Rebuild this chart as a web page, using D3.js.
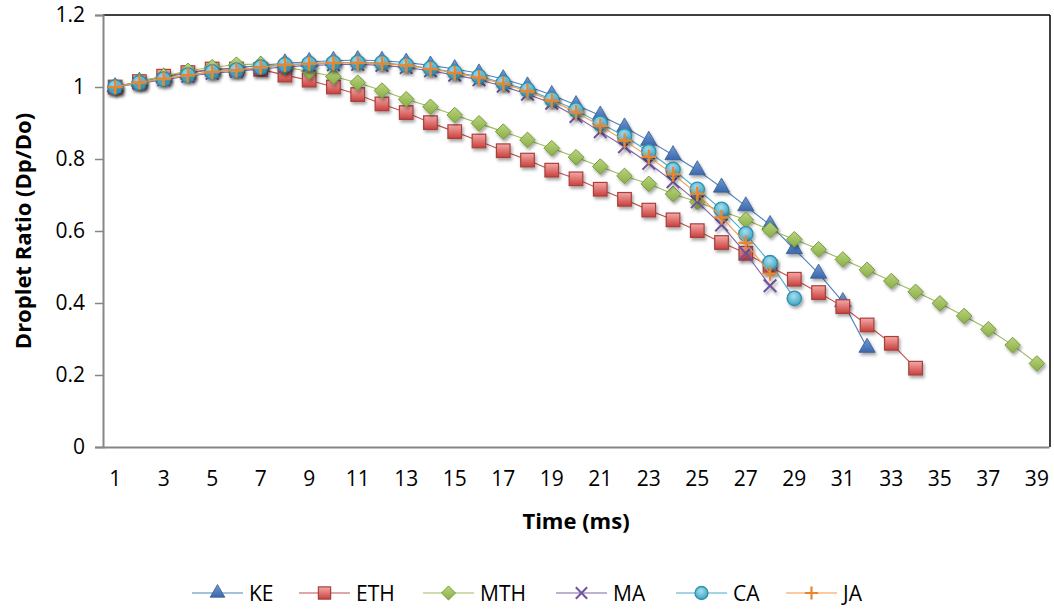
<!DOCTYPE html>
<body style="margin:0">
<svg width="1054" height="610" font-family="'Open Sans', sans-serif"></svg>
</body>
<script src="https://d3js.org/d3.v7.min.js"></script>
<script>

var svg = d3.select("svg");

// categories (ms) and series
var time = [1,2,3,4,5,6,7,8,9,10,11,12,13,14,15,16,17,18,19,20,21,22,23,24,25,26,27,28,29,30,31,32,33,34,35,36,37,38,39];
var tickLabels = [1,3,5,7,9,11,13,15,17,19,21,23,25,27,29,31,33,35,37,39];
var yTicks = [0, 0.2, 0.4, 0.6, 0.8, 1, 1.2];

var KE  = [1.0,1.015,1.027,1.038,1.048,1.053,1.06,1.066,1.07,1.073,1.075,1.073,1.068,1.06,1.05,1.038,1.022,1.002,0.978,0.95,0.921,0.888,0.851,0.811,0.769,0.721,0.669,0.617,0.55,0.482,0.403,0.276];
var ETH = [1.0,1.015,1.03,1.04,1.05,1.05,1.049,1.033,1.019,1.0,0.979,0.953,0.929,0.901,0.876,0.85,0.823,0.797,0.769,0.745,0.716,0.688,0.658,0.631,0.601,0.568,0.538,0.501,0.466,0.429,0.39,0.339,0.288,0.219];
var MTH = [1.0,1.015,1.03,1.045,1.055,1.062,1.064,1.056,1.043,1.029,1.012,0.99,0.966,0.945,0.922,0.899,0.876,0.853,0.83,0.805,0.779,0.753,0.731,0.703,0.681,0.655,0.631,0.603,0.577,0.549,0.521,0.492,0.461,0.431,0.399,0.364,0.327,0.283,0.232];
var MA  = [1.0,1.01,1.02,1.03,1.038,1.043,1.05,1.056,1.06,1.062,1.063,1.06,1.054,1.045,1.033,1.02,1.002,0.98,0.955,0.918,0.876,0.834,0.788,0.737,0.681,0.617,0.538,0.448];
var CA  = [1.0,1.012,1.022,1.033,1.042,1.047,1.055,1.062,1.065,1.067,1.068,1.067,1.061,1.052,1.041,1.029,1.012,0.992,0.966,0.936,0.899,0.864,0.82,0.771,0.716,0.66,0.592,0.512,0.413];
var JA  = [1.0,1.013,1.023,1.033,1.042,1.047,1.055,1.062,1.065,1.067,1.067,1.065,1.06,1.05,1.039,1.026,1.009,0.988,0.962,0.93,0.892,0.851,0.806,0.758,0.703,0.638,0.567,0.482];

var series = [
  {name: "KE",  values: KE,  line: "#4F81BD", shape: "triangle", fill: ["#6f9ad6", "#3b68ad"], stroke: "#385d8a"},
  {name: "ETH", values: ETH, line: "#C0504D", shape: "square",   fill: ["#f4a9a7", "#c9403c"], stroke: "#a6403d"},
  {name: "MTH", values: MTH, line: "#9BBB59", shape: "diamond",  fill: ["#b9d47f", "#8aae45"], stroke: "#779a3c"},
  {name: "MA",  values: MA,  line: "#8064A2", shape: "x",        stroke: "#7052a0"},
  {name: "CA",  values: CA,  line: "#4BACC6", shape: "circle",   fill: ["#a6def0", "#3ea4c2"], stroke: "#2f90ab"},
  {name: "JA",  values: JA,  line: "#F79646", shape: "plus",     stroke: "#e9852f"}
];

var x = d3.scaleBand().domain(time).range([103, 1049]);
var y = d3.scaleLinear().domain([0, 1.2]).range([447, 15]);
var cx = function(t) { return x(t) + x.bandwidth() / 2; };

var defs = svg.append("defs");
var shadow = defs.append("filter").attr("id", "shadow")
    .attr("x", "-50%").attr("y", "-50%").attr("width", "200%").attr("height", "200%");
shadow.append("feDropShadow").attr("dx", 1.5).attr("dy", 2.5).attr("stdDeviation", 1.6)
    .attr("flood-color", "#000").attr("flood-opacity", 0.35);

series.forEach(function(s) {
  if (!s.fill) return;
  var g = s.shape == "circle"
    ? defs.append("radialGradient").attr("id", "g-" + s.name).attr("cx", "45%").attr("cy", "35%").attr("r", "65%")
    : defs.append("linearGradient").attr("id", "g-" + s.name).attr("x1", 0).attr("y1", 0).attr("x2", 0).attr("y2", 1);
  g.append("stop").attr("offset", "0%").attr("stop-color", s.fill[0]);
  g.append("stop").attr("offset", "100%").attr("stop-color", s.fill[1]);
});

// plot frame
svg.append("line").attr("x1", 103).attr("x2", 1050).attr("y1", 15).attr("y2", 15).attr("stroke", "#000").attr("stroke-width", 1.5);
svg.append("line").attr("x1", 1050).attr("x2", 1050).attr("y1", 15).attr("y2", 447).attr("stroke", "#000").attr("stroke-width", 1.5);

// y axis
var yAxis = svg.append("g").attr("transform", "translate(103,0)")
    .call(d3.axisLeft(y).tickValues(yTicks).tickSize(8).tickPadding(10).tickFormat(d3.format("")));
yAxis.select(".domain").attr("stroke", "#868686").attr("stroke-width", 2);
yAxis.selectAll(".tick line").attr("stroke", "#868686").attr("stroke-width", 1.5);
yAxis.selectAll("text").attr("font-size", 21).attr("fill", "#000").attr("font-family", "'Open Sans', sans-serif");

// x axis
var xAxis = svg.append("g").attr("transform", "translate(0,447)")
    .call(d3.axisBottom(x).tickValues(tickLabels).tickSize(0).tickPadding(24));
xAxis.select(".domain").attr("stroke", "#868686").attr("stroke-width", 2);
xAxis.selectAll("text").attr("font-size", 21).attr("fill", "#000").attr("font-family", "'Open Sans', sans-serif");

svg.append("text").attr("x", 576).attr("y", 529).attr("text-anchor", "middle")
    .attr("font-size", 22).attr("font-weight", "bold").text("Time (ms)");
svg.append("text").attr("transform", "translate(31,231) rotate(-90)").attr("text-anchor", "middle")
    .attr("font-size", 22).attr("font-weight", "bold").text("Droplet Ratio (Dp/Do)");

function drawMarker(g, s, scale) {
  var k = scale || 1;
  if (s.shape == "triangle") {
    g.append("path").attr("d", d3.symbol(d3.symbolTriangle, 115 * k * k)())
      .attr("fill", "url(#g-" + s.name + ")").attr("stroke", s.stroke).attr("stroke-width", 0.8);
  } else if (s.shape == "square") {
    var h = 6.8 * k;
    g.append("rect").attr("x", -h).attr("y", -h).attr("width", 2 * h).attr("height", 2 * h)
      .attr("fill", "url(#g-" + s.name + ")").attr("stroke", s.stroke).attr("stroke-width", 1.2);
  } else if (s.shape == "diamond") {
    var d = 7.8 * k;
    g.append("path").attr("d", "M0," + (-d) + "L" + d + ",0L0," + d + "L" + (-d) + ",0Z")
      .attr("fill", "url(#g-" + s.name + ")").attr("stroke", s.stroke).attr("stroke-width", 1);
  } else if (s.shape == "circle") {
    g.append("circle").attr("r", 7.2 * k)
      .attr("fill", "url(#g-" + s.name + ")").attr("stroke", s.stroke).attr("stroke-width", 1.3);
  } else if (s.shape == "x") {
    var a = 6.3 * k;
    g.append("path").attr("d", "M" + (-a) + "," + (-a) + "L" + a + "," + a + "M" + a + "," + (-a) + "L" + (-a) + "," + a)
      .attr("stroke", s.stroke).attr("stroke-width", 2);
  } else if (s.shape == "plus") {
    var p = 7.3 * k;
    g.append("path").attr("d", "M" + (-p) + ",0L" + p + ",0M0," + (-p) + "L0," + p)
      .attr("stroke", s.stroke).attr("stroke-width", 2.2);
  }
}

var line = d3.line()
    .x(function(d, i) { return cx(time[i]); })
    .y(function(d) { return y(d); });

series.forEach(function(s) {
  var g = svg.append("g").attr("class", "series");
  g.append("path").datum(s.values).attr("d", line)
    .attr("fill", "none").attr("stroke", s.line).attr("stroke-width", 1.1);
  g.selectAll(".pt").data(s.values).enter().append("g")
    .attr("class", "pt")
    .attr("filter", "url(#shadow)")
    .attr("transform", function(d, i) { return "translate(" + cx(time[i]) + "," + y(d) + ")"; })
    .each(function() { drawMarker(d3.select(this), s); });
});

// legend
var legendX = [192, 299, 423, 556, 676, 786];
series.forEach(function(s, i) {
  var g = svg.append("g").attr("transform", "translate(" + legendX[i] + ",593)");
  g.append("line").attr("x1", 0).attr("x2", 51).attr("stroke", s.line).attr("stroke-width", 1.2);
  var m = g.append("g").attr("transform", "translate(25.5,0)");
  drawMarker(m, s, 0.9);
  g.append("text").attr("x", 57).attr("dy", "0.36em").attr("font-size", 21).text(s.name);
});

</script>
